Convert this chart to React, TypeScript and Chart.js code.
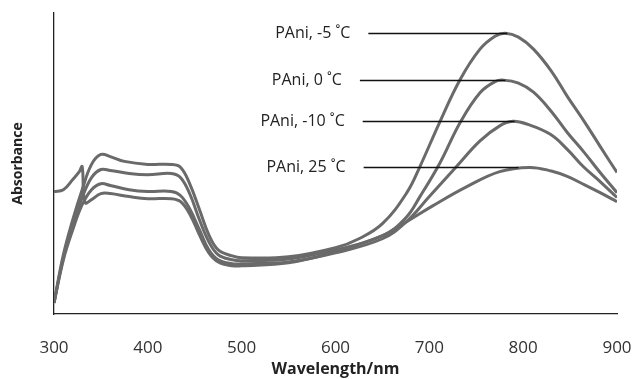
import React, { useEffect, useRef } from "react";
import { Chart, registerables } from "chart.js";

Chart.register(...registerables);

// Series: wavelength (nm) and absorbance (arbitrary units)
const seriesLabels = ["PAni, -5 \u02DAC", "PAni, 0 \u02DAC", "PAni, -10 \u02DAC", "PAni, 25 \u02DAC"];

const wlMinus5 = [300, 310, 320, 330, 340, 350, 360, 375, 400, 425, 435, 445, 455, 465, 475, 490, 500, 550, 600, 625, 650, 676, 690, 711, 733, 754, 770, 781, 795, 811, 830, 847, 865, 882, 900];
const absMinus5 = [0.037, 0.197, 0.313, 0.413, 0.497, 0.53, 0.523, 0.507, 0.497, 0.497, 0.487, 0.43, 0.347, 0.263, 0.213, 0.193, 0.187, 0.19, 0.22, 0.25, 0.3, 0.403, 0.49, 0.637, 0.78, 0.88, 0.923, 0.933, 0.92, 0.88, 0.807, 0.723, 0.64, 0.557, 0.47];

const wl0 = [300, 310, 320, 330, 340, 350, 360, 380, 400, 425, 435, 445, 455, 465, 475, 490, 500, 550, 600, 650, 675, 690, 711, 733, 754, 770, 779, 795, 811, 830, 847, 865, 882, 900];
const abs0 = [0.037, 0.187, 0.297, 0.387, 0.453, 0.48, 0.477, 0.467, 0.463, 0.467, 0.453, 0.397, 0.313, 0.24, 0.197, 0.18, 0.177, 0.183, 0.213, 0.26, 0.32, 0.39, 0.5, 0.637, 0.735, 0.772, 0.777, 0.767, 0.737, 0.673, 0.603, 0.537, 0.47, 0.403];

const wlMinus10 = [300, 310, 320, 330, 340, 350, 360, 380, 400, 425, 435, 445, 455, 465, 475, 490, 500, 550, 600, 650, 675, 700, 729, 754, 775, 789, 805, 829, 847, 864, 882, 900];
const absMinus10 = [0.037, 0.18, 0.28, 0.363, 0.413, 0.433, 0.427, 0.413, 0.407, 0.407, 0.393, 0.347, 0.28, 0.213, 0.18, 0.167, 0.167, 0.173, 0.203, 0.25, 0.305, 0.39, 0.49, 0.575, 0.625, 0.64, 0.63, 0.597, 0.547, 0.49, 0.44, 0.387];

const wl25 = [300, 310, 320, 327, 330, 333, 340, 350, 360, 380, 400, 425, 435, 445, 455, 465, 475, 490, 500, 550, 600, 650, 675, 704, 740, 775, 807, 830, 847, 865, 882, 900];
const abs25 = [0.407, 0.413, 0.447, 0.473, 0.49, 0.37, 0.38, 0.4, 0.4, 0.39, 0.383, 0.383, 0.373, 0.33, 0.263, 0.203, 0.173, 0.16, 0.16, 0.17, 0.207, 0.26, 0.305, 0.36, 0.423, 0.473, 0.487, 0.475, 0.457, 0.43, 0.403, 0.373];

const seriesWavelengths = [wlMinus5, wl0, wlMinus10, wl25];
const seriesAbsorbance = [absMinus5, abs0, absMinus10, abs25];

// Leader lines for the annotations: start / end wavelengths (drawn at each series' NIR peak height)
const labelLineStart = [635, 626, 629, 630];
const labelLineEnd = [783, 781, 791, 795];
const peakSearchFrom = 600;

const xTicks = [300, 400, 500, 600, 700, 800, 900];

const FONT = "'Open Sans', 'DejaVu Sans', sans-serif";

const labelPlugin = {
  id: "peakLabels",
  afterDatasetsDraw(chart: any) {
    const { ctx, scales } = chart;
    const xs = scales.x;
    const ys = scales.y;
    ctx.save();
    seriesAbsorbance.forEach((vals, i) => {
      const wls = seriesWavelengths[i];
      let mi = -1;
      vals.forEach((v, k) => {
        if (wls[k] < peakSearchFrom) return;
        if (mi < 0 || v > vals[mi]) mi = k;
      });
      const ex = xs.getPixelForValue(labelLineEnd[i]);
      const py = Math.round(ys.getPixelForValue(vals[mi])) + 0.5;
      const sx = xs.getPixelForValue(labelLineStart[i]);
      ctx.strokeStyle = "#111";
      ctx.lineWidth = 1.3;
      ctx.beginPath();
      ctx.moveTo(sx, py);
      ctx.lineTo(ex, py);
      ctx.stroke();
      ctx.fillStyle = "#222";
      ctx.font = `16px ${FONT}`;
      ctx.textAlign = "right";
      ctx.textBaseline = "middle";
      ctx.fillText(seriesLabels[i], sx - 18, py);
    });
    ctx.restore();
  },
};

export default function App() {
  const ref = useRef<HTMLCanvasElement | null>(null);
  useEffect(() => {
    if (!ref.current) return;
    const chart = new Chart(ref.current, {
      type: "line",
      data: {
        datasets: seriesLabels.map((label, i) => ({
          label,
          data: seriesWavelengths[i].map((x, k) => ({ x, y: seriesAbsorbance[i][k] })),
          borderColor: "#6a6a6a",
          borderWidth: 3,
          pointRadius: 0,
          fill: false,
          tension: 0.4,
        })),
      },
      options: {
        animation: false,
        responsive: false,
        maintainAspectRatio: false,
        layout: { padding: { top: 13, right: 17, left: 0, bottom: 0 } },
        plugins: { legend: { display: false }, tooltip: { enabled: false } },
        scales: {
          x: {
            type: "linear",
            min: 300,
            max: 900,
            afterBuildTicks: (scale: any) => {
              scale.ticks = xTicks.map((v) => ({ value: v }));
            },
            afterFit: (scale: any) => {
              scale.height = 65;
              scale.paddingLeft = 0;
              scale.paddingRight = 0;
            },
            grid: { display: false },
            border: { display: true, color: "#222", width: 1.3 },
            ticks: {
              color: "#333",
              font: { family: FONT, size: 17 },
              padding: 16,
              maxRotation: 0,
              autoSkip: false,
            },
            title: {
              display: true,
              text: "Wavelength/nm",
              color: "#222",
              font: { family: FONT, size: 16, weight: "bold" },
              padding: { top: 0, bottom: 0 },
            },
          },
          y: {
            min: 0,
            max: 1.0,
            afterFit: (scale: any) => {
              scale.width = 54;
            },
            grid: { display: false },
            border: { display: true, color: "#222", width: 1.3 },
            ticks: { display: false },
            title: {
              display: true,
              text: "Absorbance",
              color: "#222",
              font: { family: FONT, size: 14, weight: "bold" },
              padding: 10,
            },
          },
        },
      },
      plugins: [labelPlugin],
    });
    return () => chart.destroy();
  }, []);
  return (
    <div style={{ position: "fixed", left: 0, top: 0, width: 634, height: 379, background: "#fff" }}>
      <canvas ref={ref} width={634} height={379} style={{ width: 634, height: 379 }} />
    </div>
  );
}
